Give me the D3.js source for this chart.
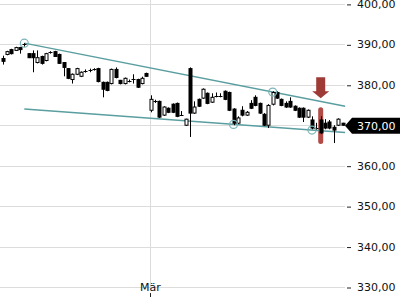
<!DOCTYPE html>
<html>
<head>
<meta charset="utf-8">
<script src="https://cdn.jsdelivr.net/npm/d3@7"></script>
<style>
  body { margin: 0; background: #fff; }
  svg { display: block; font-family: "DejaVu Sans", sans-serif; }
</style>
</head>
<body>
<div id="chart"></div>
<script>
// Kursdaten (Index, Open, High, Low, Close)
const opens  = [386.5,387.5,388.7,388.5,389.2,389.9,387.7,387.7,385.5,387.0,386.0,388.0,388.2,387.5,385.5,384.0,381.3,382.6,382.1,383.3,
                383.7,383.8,384.0,380.6,380.6,380.3,383.8,381.1,380.3,380.9,381.5,381.3,380.3,382.8,373.7,375.9,375.9,372.5,374.2,375.2,
                375.4,372.5,370.0,384.0,373.0,376.4,376.7,377.9,375.7,377.4,377.2,378.4,378.1,374.0,370.5,373.7,372.5,375.4,376.9,375.4,
                372.7,370.0,375.2,378.1,376.4,375.4,375.9,374.7,374.2,374.2,372.0,371.3,369.5,371.3,370.5,370.8,369.5,370.0,370.5];
const highs  = [387.2,388.4,388.9,389.4,389.4,390.3,387.8,388.5,388.5,387.2,387.9,388.3,388.4,387.7,385.6,384.1,382.8,384.2,383.3,383.8,
                384.0,384.1,384.2,380.8,380.8,384.0,384.3,381.2,381.8,381.3,382.6,381.5,382.0,383.0,377.4,376.3,376.1,374.7,374.4,375.4,
                375.6,373.5,371.6,384.3,375.9,376.6,379.1,378.1,377.9,378.1,377.9,378.6,378.3,374.2,372.2,374.7,373.5,376.2,377.4,375.6,
                373.0,375.2,378.4,378.4,376.6,375.9,376.9,374.9,374.4,374.4,373.9,372.2,370.6,372.2,371.5,371.3,370.0,371.7,370.6];
const lows   = [385.0,387.3,387.5,388.4,387.7,389.4,386.6,383.1,385.3,385.0,385.8,387.7,387.0,385.2,382.1,381.4,380.3,382.4,381.9,383.0,
                383.1,383.5,380.6,376.9,378.4,380.1,381.6,380.1,380.1,380.6,380.3,379.2,380.1,382.0,373.2,375.5,371.8,372.3,373.0,373.0,
                372.0,372.4,369.8,367.1,372.8,374.5,376.5,375.2,375.5,376.9,376.9,376.2,373.5,370.0,370.3,372.2,372.3,374.0,374.7,372.8,
                369.8,369.3,374.9,376.5,374.7,374.3,374.3,373.5,371.8,370.8,371.8,369.0,368.8,367.8,369.0,369.0,365.6,369.8,369.9];
const closes = [385.8,388.2,387.7,389.2,388.7,390.0,386.7,386.7,386.7,385.3,387.7,388.0,387.0,385.3,384.3,381.6,382.6,384.0,383.1,383.4,
                383.6,383.8,380.8,378.9,378.6,383.8,381.8,380.3,381.6,381.0,381.4,379.4,381.6,382.1,376.4,375.9,372.0,374.5,373.2,373.2,
                372.2,372.5,371.5,373.0,374.5,374.7,378.9,375.4,376.9,377.3,377.2,376.4,373.7,370.5,371.8,372.5,373.2,374.2,374.9,373.0,
                370.0,374.9,378.1,376.7,374.9,374.5,374.5,373.7,372.0,372.0,373.7,369.3,369.4,368.1,369.3,369.3,368.8,371.5,370.0];

// Achsen
const yTicks = [330, 340, 350, 360, 370, 380, 390, 400];
const xTickIdx = [34];
const xTickLabels = ["Mär"];
const lastPrice = 370.00;

// Trendlinien [Index, Kurs]
const upperLine = [[5, 390.3], [78.6, 374.7]];
const lowerLine = [[5, 374.0], [78.6, 368.2]];
const touchPoints = [[5, 390.3], [62, 378.2], [53, 370.2], [71, 368.8]];

// Signal (roter Pfeil + Balken)
const signalIdx = 73;
const signalArrowTip = 376.7;
const signalBar = [366.0, 373.8];

const W = 400, H = 300;
const svg = d3.select("#chart").append("svg")
    .attr("width", W)
    .attr("height", H);

const x = d3.scaleLinear().domain([0, 78]).range([2.5, 342.5]);
const y = d3.scaleLinear().domain([330, 400]).range([287, 3.9]);

const de = d3.formatLocale({decimal: ",", thousands: ".", grouping: [3], currency: ["", "€"]});
const fmt = de.format(".2f");

// Gitter horizontal
svg.append("g")
    .selectAll("line")
    .data(yTicks)
    .join("line")
    .attr("x1", 0)
    .attr("x2", 345)
    .attr("y1", d => Math.round(y(d)) + 0.5)
    .attr("y2", d => Math.round(y(d)) + 0.5)
    .attr("stroke", "#dcdcdc");

// Gitter vertikal
svg.append("g")
    .selectAll("line")
    .data(xTickIdx)
    .join("line")
    .attr("x1", d => Math.round(x(d)) - 0.5)
    .attr("x2", d => Math.round(x(d)) - 0.5)
    .attr("y1", 0)
    .attr("y2", 290)
    .attr("stroke", "#dcdcdc");

// Y-Achse rechts
const yAxis = svg.append("g")
    .attr("transform", "translate(347,0)")
    .call(d3.axisRight(y).tickValues(yTicks).tickSize(0).tickPadding(10).tickFormat(fmt));
yAxis.select(".domain").remove();
yAxis.selectAll("text").attr("font-size", 11).attr("fill", "#111").attr("font-family", "DejaVu Sans");
yAxis.selectAll(".tick").append("line")
    .attr("x1", 0).attr("x2", 4)
    .attr("y1", 0.5).attr("y2", 0.5)
    .attr("stroke", "#222");

// X-Achse
svg.append("g")
    .selectAll("text")
    .data(xTickIdx)
    .join("text")
    .attr("x", d => Math.round(x(d)) - 0.5)
    .attr("y", 291)
    .attr("text-anchor", "middle")
    .attr("font-size", 11)
    .attr("fill", "#111")
    .text((d, i) => xTickLabels[i]);
svg.append("g")
    .selectAll("line")
    .data(xTickIdx)
    .join("line")
    .attr("x1", d => Math.round(x(d)) - 0.5)
    .attr("x2", d => Math.round(x(d)) - 0.5)
    .attr("y1", 293)
    .attr("y2", 297)
    .attr("stroke", "#222");

// Signal-Balken
svg.append("line")
    .attr("x1", x(signalIdx))
    .attr("x2", x(signalIdx))
    .attr("y1", y(signalBar[1]))
    .attr("y2", y(signalBar[0]))
    .attr("stroke", "#b24a45")
    .attr("stroke-width", 5)
    .attr("stroke-linecap", "round");

// Trendlinien
const line = d3.line().x(d => x(d[0])).y(d => y(d[1]));
[upperLine, lowerLine].forEach(l => {
    svg.append("path")
        .datum(l)
        .attr("fill", "none")
        .attr("stroke", "#5a9ea0")
        .attr("stroke-width", 1.4)
        .attr("d", line);
});

// Kerzen
const candles = opens.map((o, i) => ({i: i, o: o, h: highs[i], l: lows[i], c: closes[i]}));
const cg = svg.append("g");
cg.selectAll("line.wick")
    .data(candles)
    .join("line")
    .attr("class", "wick")
    .attr("x1", d => Math.round(x(d.i)) + 0.5)
    .attr("x2", d => Math.round(x(d.i)) + 0.5)
    .attr("y1", d => y(d.h))
    .attr("y2", d => y(d.l))
    .attr("stroke", "#000");
cg.selectAll("rect")
    .data(candles.filter(d => Math.abs(d.o - d.c) >= 0.3))
    .join("rect")
    .attr("x", d => Math.round(x(d.i)) - 1)
    .attr("y", d => y(Math.max(d.o, d.c)))
    .attr("width", 3)
    .attr("height", d => Math.max(1, y(Math.min(d.o, d.c)) - y(Math.max(d.o, d.c))))
    .attr("fill", d => d.c >= d.o ? "#fff" : "#000")
    .attr("stroke", "#000")
    .attr("stroke-width", 1);
cg.selectAll("line.doji")
    .data(candles.filter(d => Math.abs(d.o - d.c) < 0.3))
    .join("line")
    .attr("class", "doji")
    .attr("x1", d => Math.round(x(d.i)) - 1.5)
    .attr("x2", d => Math.round(x(d.i)) + 2.5)
    .attr("y1", d => Math.round(y(d.c)) + 0.5)
    .attr("y2", d => Math.round(y(d.c)) + 0.5)
    .attr("stroke", "#000");

// Berührungspunkte
svg.append("g")
    .selectAll("circle")
    .data(touchPoints)
    .join("circle")
    .attr("cx", d => x(d[0]))
    .attr("cy", d => y(d[1]))
    .attr("r", 4)
    .attr("fill", "none")
    .attr("stroke", "#7ab4b6")
    .attr("stroke-width", 1.2);

// Signal-Pfeil
const ax = x(signalIdx), at = y(signalArrowTip);
svg.append("path")
    .attr("d", `M${ax - 4.5},${at - 21} L${ax + 4.5},${at - 21} L${ax + 4.5},${at - 7} L${ax + 8.5},${at - 7} L${ax},${at} L${ax - 8.5},${at - 7} L${ax - 4.5},${at - 7} Z`)
    .attr("fill", "#9e3b36");

// Letzter Kurs
const ly = y(lastPrice);
svg.append("path")
    .attr("d", `M345,${ly + 0.5} L352,${ly - 7.5} L400,${ly - 7.5} L400,${ly + 8.5} L352,${ly + 8.5} Z`)
    .attr("fill", "#000");
svg.append("text")
    .attr("x", 357)
    .attr("y", ly + 0.5)
    .attr("dy", "0.35em")
    .attr("font-size", 11)
    .attr("fill", "#fff")
    .text(fmt(lastPrice));
</script>
</body>
</html>
